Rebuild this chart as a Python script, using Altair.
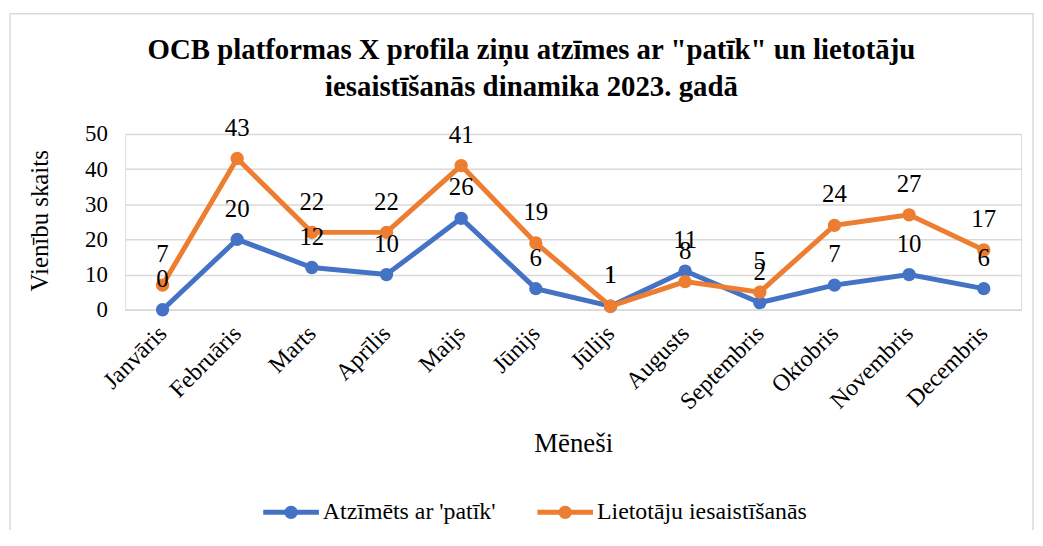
import altair as alt
import pandas as pd

months = ["Janvāris", "Februāris", "Marts", "Aprīlis", "Maijs", "Jūnijs",
          "Jūlijs", "Augusts", "Septembris", "Oktobris", "Novembris", "Decembris"]
likes = [0, 20, 12, 10, 26, 6, 1, 11, 2, 7, 10, 6]
engagement = [7, 43, 22, 22, 41, 19, 1, 8, 5, 24, 27, 17]
series_names = ["Atzīmēts ar 'patīk'", "Lietotāju iesaistīšanās"]
colors = ["#4472C4", "#ED7D31"]
y_ticks = [0, 10, 20, 30, 40, 50]

rows = []
for s, vals in zip(series_names, [likes, engagement]):
    for m, v in zip(months, vals):
        rows.append({"Mēnesis": m, "Sērija": s, "Vērtība": v})
df = pd.DataFrame(rows)

FONT = "Liberation Serif"
GRID = "#d9d9d9"

x_enc = alt.X(
    "Mēnesis:N", sort=months,
    scale=alt.Scale(type="point", padding=0.5),
    axis=alt.Axis(
        title="Mēneši", labelAngle=-45, labelAlign="right", labelBaseline="middle",
        labelPadding=20, labelFontSize=24, labelFont=FONT, labelColor="black",
        ticks=False, domain=True, domainColor=GRID, domainWidth=1.5, grid=False,
        titleFont=FONT, titleFontSize=27, titleFontWeight="normal", titleColor="black",
        titleX=451, titleY=135, titleBaseline="middle", titleAlign="center",
        labelOverlap=False, labelLimit=400,
    ),
)
y_enc = alt.Y(
    "Vērtība:Q",
    scale=alt.Scale(domain=[0, 50], nice=False),
    axis=alt.Axis(
        title="Vienību skaits", values=y_ticks, ticks=False, domain=False,
        grid=True, gridColor=GRID, gridWidth=1.5,
        labelFont=FONT, labelFontSize=23, labelColor="black", labelPadding=18,
        titleFont=FONT, titleFontSize=25, titleFontWeight="normal", titleColor="black",
        titleAngle=-90, titleX=-86, titleY=87, titleBaseline="middle", titleAlign="center",
    ),
)

color_scale = alt.Scale(domain=series_names, range=colors)
legend_symbol = ("M-1,-0.09 L1,-0.09 L1,0.09 L-1,0.09 Z "
                 "M0.24,0 A0.24,0.24 0 1,1 -0.24,0 A0.24,0.24 0 1,1 0.24,0 Z")
legend = alt.Legend(
    title=None, orient="none", direction="horizontal",
    legendX=139, legendY=353,
    symbolType=legend_symbol, symbolSize=3136, symbolStrokeWidth=0,
    labelFont=FONT, labelFontSize=24, labelColor="black", labelLimit=400,
    labelOffset=4, columnPadding=42,
)

base = alt.Chart(df)
layers = []
for s, c in zip(series_names, colors):
    sub = base.transform_filter(alt.datum["Sērija"] == s)
    layers.append(
        sub.mark_line(strokeWidth=5, color=c).encode(x=x_enc, y=y_enc)
    )
    layers.append(
        sub.mark_circle(size=180, opacity=1).encode(
            x=x_enc, y=y_enc,
            color=alt.Color("Sērija:N", scale=color_scale, legend=legend),
        )
    )

labels = base.mark_text(dy=-31, fontSize=25, font=FONT, color="black").encode(
    x=x_enc, y=y_enc, text="Vērtība:Q"
)

border = alt.Chart(pd.DataFrame({"a": [0]})).mark_rect(
    fillOpacity=0, stroke=GRID, strokeWidth=1.5
).encode(
    x=alt.value(-116), x2=alt.value(914), y=alt.value(-121), y2=alt.value(600)
)

chart = alt.layer(border, *layers, labels).properties(
    width=902, height=177,
    title=alt.TitleParams(
        text=["OCB platformas X profila ziņu atzīmes ar \"patīk\" un lietotāju",
              "iesaistīšanās dinamika 2023. gadā"],
        font=FONT, fontSize=29, fontWeight="bold", color="black",
        anchor="middle", frame="group", dx=-42, offset=-90, lineHeight=38,
    ),
    autosize=alt.AutoSizeParams(type="none"),
    padding={"left": 118, "top": 125, "right": 14, "bottom": 220},
).configure_view(stroke=None).configure(background="white")

chart.save("out.html", embed_options={"renderer": "svg", "actions": False})
